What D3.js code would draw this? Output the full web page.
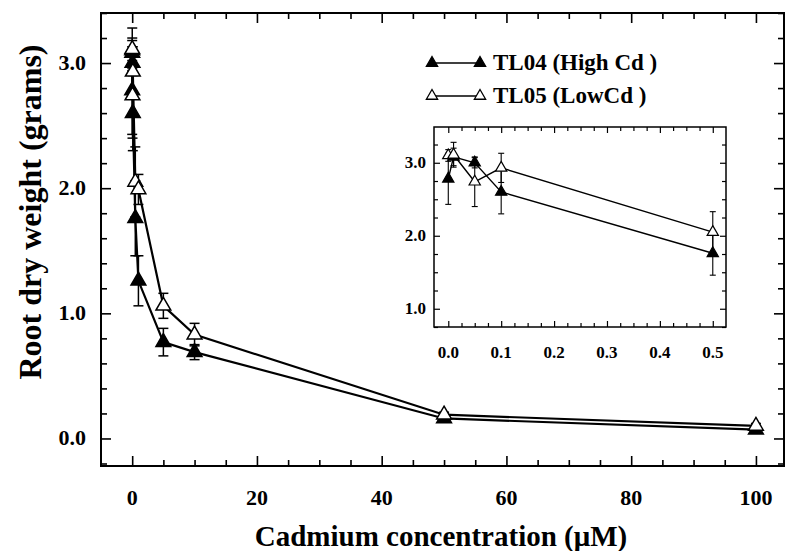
<!DOCTYPE html>
<html>
<head>
<meta charset="utf-8">
<script src="https://cdn.jsdelivr.net/npm/d3@7"></script>
<style>
  body { margin: 0; background: #fff; }
  text { font-family: "Liberation Serif", Tinos, "Times New Roman", Times, "DejaVu Serif", serif; font-weight: bold; fill: #000; }
</style>
</head>
<body>
<div id="graph"></div>
<script>
// Data
const conc = [0, 0.01, 0.05, 0.1, 0.5, 1, 5, 10, 50, 100]
const tl04 = [2.78, 3.08, 3.0, 2.6, 1.76, 1.26, 0.77, 0.69, 0.16, 0.07]
const tl04Err = [0.35, 0.12, 0.07, 0.3, 0.3, 0.2, 0.11, 0.06, 0.02, 0.02]
const tl05 = [3.1, 3.11, 2.74, 2.93, 2.05, 1.99, 1.06, 0.83, 0.19, 0.1]
const tl05Err = [0.08, 0.17, 0.34, 0.2, 0.28, 0.12, 0.1, 0.09, 0.02, 0.02]
const seriesNames = ['TL04 (High Cd )', 'TL05 (LowCd )']
const xLabels = [0, 20, 40, 60, 80, 100]
const yLabels = [0.0, 1.0, 2.0, 3.0]
const insetXLabels = [0.0, 0.1, 0.2, 0.3, 0.4, 0.5]
const insetYLabels = [1.0, 2.0, 3.0]

const series = [
  { name: seriesNames[0], fill: '#000', pts: conc.map((c, i) => ({ x: c, y: tl04[i], e: tl04Err[i] })) },
  { name: seriesNames[1], fill: '#fff', pts: conc.map((c, i) => ({ x: c, y: tl05[i], e: tl05Err[i] })) }
]

const W = 786, H = 551

svg = d3.select('#graph').append('svg')
  .attr('width', W)
  .attr('height', H)

// main panel
x = d3.scaleLinear().domain([-5, 104.5]).range([101, 784])
y = d3.scaleLinear().domain([-0.22, 3.4]).range([466, 13])

// inset panel
xi = d3.scaleLinear().domain([-0.027, 0.525]).range([434, 726])
yi = d3.scaleLinear().domain([0.75, 3.49]).range([327, 127])

function frame(g, xs, ys, opt) {
  let [x0, x1] = xs.range()
  let [y0, y1] = ys.range()
  let minor = (vals, major) => vals.filter(v => !major.some(m => Math.abs(m - v) < 1e-9))

  // inward ticks on all four sides
  let sides = [
    { axis: d3.axisBottom, s: xs, pos: `translate(0,${y0})`, vals: opt.xTicks, major: opt.xMajor },
    { axis: d3.axisTop, s: xs, pos: `translate(0,${y1})`, vals: opt.xTicks, major: opt.xMajor },
    { axis: d3.axisLeft, s: ys, pos: `translate(${x0},0)`, vals: opt.yTicks, major: opt.yMajor },
    { axis: d3.axisRight, s: ys, pos: `translate(${x1},0)`, vals: opt.yTicks, major: opt.yMajor }
  ]
  sides.forEach(sd => {
    g.append('g').attr('transform', sd.pos)
      .call(sd.axis(sd.s).tickValues(minor(sd.vals, sd.major)).tickSizeInner(-opt.minorLen).tickSizeOuter(0).tickFormat(''))
    g.append('g').attr('transform', sd.pos)
      .call(sd.axis(sd.s).tickValues(sd.major).tickSizeInner(-opt.majorLen).tickSizeOuter(0).tickFormat(''))
  })
  g.selectAll('.domain').remove()
  g.selectAll('.tick line').attr('stroke', '#000').attr('stroke-width', opt.tickWidth)

  g.append('rect')
    .attr('x', x0).attr('y', y1)
    .attr('width', x1 - x0).attr('height', y0 - y1)
    .attr('fill', 'none').attr('stroke', '#000').attr('stroke-width', opt.frameWidth)
}

function plotSeries(g, xs, ys, pts, opt) {
  let line = d3.line().x(d => xs(d.x)).y(d => ys(d.y))
  g.append('path')
    .datum(pts)
    .attr('fill', 'none')
    .attr('stroke', '#000')
    .attr('stroke-width', opt.lineWidth)
    .attr('d', line)

  let eb = g.append('g').selectAll('g').data(pts).enter().append('g')
  eb.append('line')
    .attr('x1', d => xs(d.x)).attr('x2', d => xs(d.x))
    .attr('y1', d => ys(d.y - d.e)).attr('y2', d => ys(d.y + d.e))
  eb.append('line')
    .attr('x1', d => xs(d.x) - opt.cap).attr('x2', d => xs(d.x) + opt.cap)
    .attr('y1', d => ys(d.y + d.e)).attr('y2', d => ys(d.y + d.e))
  eb.append('line')
    .attr('x1', d => xs(d.x) - opt.cap).attr('x2', d => xs(d.x) + opt.cap)
    .attr('y1', d => ys(d.y - d.e)).attr('y2', d => ys(d.y - d.e))
  eb.selectAll('line').attr('stroke', '#000').attr('stroke-width', opt.errWidth)
}

function plotMarkers(g, xs, ys, pts, s, opt) {
  g.append('g').selectAll('path').data(pts).enter().append('path')
    .attr('d', d3.symbol(d3.symbolTriangle, opt.size))
    .attr('transform', d => `translate(${xs(d.x)},${ys(d.y)})`)
    .attr('fill', s.fill)
    .attr('stroke', '#000')
    .attr('stroke-width', opt.markWidth)
}

// ---- main chart
main = svg.append('g')
frame(main, x, y, {
  xTicks: d3.range(0, 101, 5), xMajor: d3.range(0, 101, 20),
  yTicks: d3.range(-0.2, 3.41, 0.2).map(v => +v.toFixed(1)), yMajor: [0, 1, 2, 3],
  minorLen: 6, majorLen: 10, tickWidth: 1.6, frameWidth: 2
})

let mainOpt = { lineWidth: 2.2, cap: 5, errWidth: 1.5, size: 95, markWidth: 1.5 }
series.forEach(s => plotSeries(main, x, y, s.pts, mainOpt))
series.forEach(s => plotMarkers(main, x, y, s.pts, s, mainOpt))

main.append('g').selectAll('text').data(xLabels).enter().append('text')
  .attr('x', d => x(d)).attr('y', 505)
  .attr('text-anchor', 'middle')
  .style('font-size', '22px')
  .text(d => d)

main.append('g').selectAll('text').data(yLabels).enter().append('text')
  .attr('x', 86).attr('y', d => y(d) + 7)
  .attr('text-anchor', 'end')
  .style('font-size', '22px')
  .text(d => d.toFixed(1))

svg.append('text')
  .attr('x', 441).attr('y', 546)
  .attr('text-anchor', 'middle')
  .style('font-size', '29px')
  .text('Cadmium concentration (\u03bcM)')

svg.append('text')
  .attr('transform', 'translate(41,212) rotate(-90)')
  .attr('text-anchor', 'middle')
  .style('font-size', '32px')
  .text('Root dry weight (grams)')

// ---- legend
legend = svg.append('g')
series.forEach((s, i) => {
  let ly = 63 + i * 33
  legend.append('line')
    .attr('x1', 432).attr('x2', 480).attr('y1', ly).attr('y2', ly)
    .attr('stroke', '#000').attr('stroke-width', 1.5)
  legend.selectAll(null).data([432, 480]).enter().append('path')
    .attr('d', d3.symbol(d3.symbolTriangle, 55))
    .attr('transform', d => `translate(${d},${ly})`)
    .attr('fill', s.fill).attr('stroke', '#000').attr('stroke-width', 1.3)
  legend.append('text')
    .attr('x', 493).attr('y', ly + 7)
    .style('font-size', '23px')
    .text(s.name)
})

// ---- inset
inset = svg.append('g')
frame(inset, xi, yi, {
  xTicks: d3.range(0, 0.5001, 0.025), xMajor: insetXLabels,
  yTicks: d3.range(1, 3.26, 0.25).concat([0.75]), yMajor: insetYLabels,
  minorLen: 4, majorLen: 6, tickWidth: 1.2, frameWidth: 1.5
})

let insetOpt = { lineWidth: 1.4, cap: 3, errWidth: 1.1, size: 55, markWidth: 1.2 }
series.forEach(s => plotSeries(inset, xi, yi, s.pts.filter(d => d.x <= 0.5), insetOpt))
series.forEach(s => plotMarkers(inset, xi, yi, s.pts.filter(d => d.x <= 0.5), s, insetOpt))

inset.append('g').selectAll('text').data(insetXLabels).enter().append('text')
  .attr('x', d => xi(d)).attr('y', 358)
  .attr('text-anchor', 'middle')
  .style('font-size', '17px')
  .text(d => d.toFixed(1))

inset.append('g').selectAll('text').data(insetYLabels).enter().append('text')
  .attr('x', 426).attr('y', d => yi(d) + 5)
  .attr('text-anchor', 'end')
  .style('font-size', '17px')
  .text(d => d.toFixed(1))
</script>
</body>
</html>
